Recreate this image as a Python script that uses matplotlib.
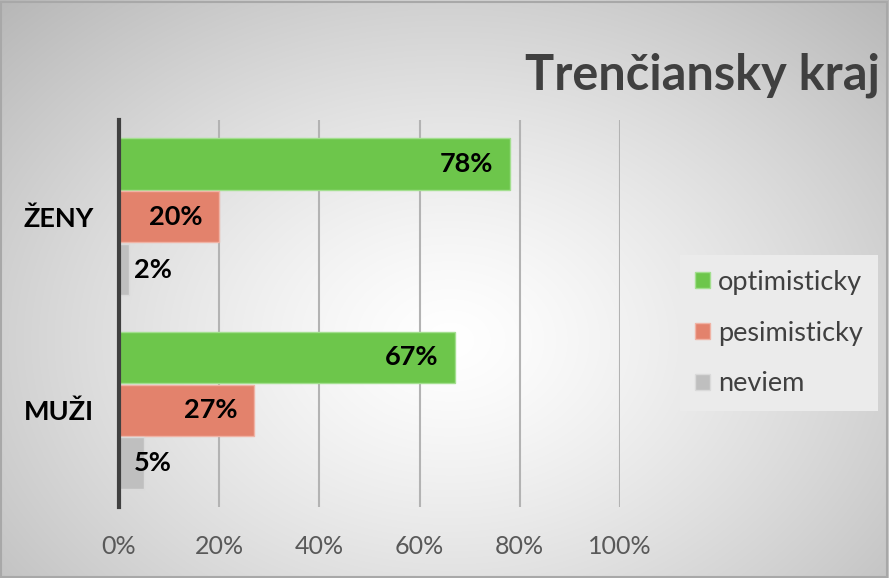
import numpy as np
import matplotlib
matplotlib.use("Agg")
import matplotlib.pyplot as plt
from matplotlib.ticker import FuncFormatter

plt.rcParams['font.family'] = ['Lato', 'DejaVu Sans']

# data
categories = ['MUŽI', 'ŽENY']
series_names = ['optimisticky', 'pesimisticky', 'neviem']
optimisticky = [67, 78]
pesimisticky = [27, 20]
neviem = [5, 2]
values = [optimisticky, pesimisticky, neviem]
colors = ['#6dc64b', '#e3826c', '#bfbfbf']
edges = ['#a3df8f', '#f0b3a5', '#dadada']
x_ticks = [0, 20, 40, 60, 80, 100]

W, H = 889, 578
fig = plt.figure(figsize=(W / 100, H / 100), dpi=100)

# radial background
bg = fig.add_axes([0, 0, 1, 1], zorder=-5)
yy, xx = np.mgrid[0:H, 0:W]
r = np.sqrt(((xx - 450) / 560.0) ** 2 + ((yy - 340) / 420.0) ** 2)
shade = 1 - 0.24 * np.clip(r, 0, 1.2) ** 1.3
bg.imshow(np.dstack([shade] * 3), aspect='auto', extent=[0, 1, 0, 1])
bg.set_xlim(0, 1)
bg.set_ylim(0, 1)
bg.axis('off')
fig.patches.append(plt.Rectangle((0.001, 0.002), 0.997, 0.995, transform=fig.transFigure,
                                 fill=False, edgecolor='#a8a8a8', linewidth=1.5))

ax = fig.add_axes([119 / W, 1 - 507 / H, (620 - 119) / W, (507 - 120) / H])
ax.set_facecolor('none')

step = 0.273
height = 0.266
ypos = np.arange(len(categories))
for i, (name, vals) in enumerate(zip(series_names, values)):
    offs = (1 - i) * step
    bars = ax.barh(ypos + offs, vals, height=height, color=colors[i],
                   edgecolor=edges[i], linewidth=1, label=name, zorder=3)
    for b, v in zip(bars, vals):
        cy = b.get_y() + b.get_height() / 2
        if i < 2:
            ax.annotate(f'{v}%', (v, cy), xytext=(-12, 0), textcoords='offset points',
                        ha='right', va='center', fontsize=19.5, fontweight='bold',
                        color='black', zorder=4)
        else:
            ax.annotate(f'{v}%', (0, cy), xytext=(11, 0), textcoords='offset points',
                        ha='left', va='center', fontsize=19.5, fontweight='bold',
                        color='black', zorder=4)

ax.set_xlim(0, 100)
ax.set_ylim(-0.5, 1.5)
ax.set_xticks(x_ticks)
ax.xaxis.set_major_formatter(FuncFormatter(lambda v, p: f'{int(v)}%'))
ax.set_yticks(ypos)
ax.set_yticklabels(categories, fontsize=19.5, fontweight='bold', color='black')
ax.tick_params(axis='x', length=0, labelsize=18, labelcolor='#595959', pad=20)
ax.tick_params(axis='y', length=0, pad=18)
ax.grid(axis='x', color='#b3b3b3', linewidth=1.5, zorder=0)
for s in ['top', 'right', 'bottom']:
    ax.spines[s].set_visible(False)
ax.spines['left'].set_color('#404040')
ax.spines['left'].set_linewidth(3)
ax.spines['left'].set_zorder(5)

fig.text(880 / W, 1 - 90 / H, 'Trenčiansky kraj', ha='right', va='baseline',
         fontsize=35, fontweight='bold', color='#404040')

leg = fig.legend(loc='upper left', bbox_to_anchor=(680 / W, 1 - 255 / H),
                 fontsize=19.5, frameon=True, fancybox=False, facecolor='#ebebeb',
                 edgecolor='none', framealpha=1, handlelength=0.55, handleheight=0.55,
                 handletextpad=0.3, labelspacing=0.95, borderpad=0.55, borderaxespad=0)
for t in leg.get_texts():
    t.set_color('#404040')

fig.savefig('out.png', dpi=100)
